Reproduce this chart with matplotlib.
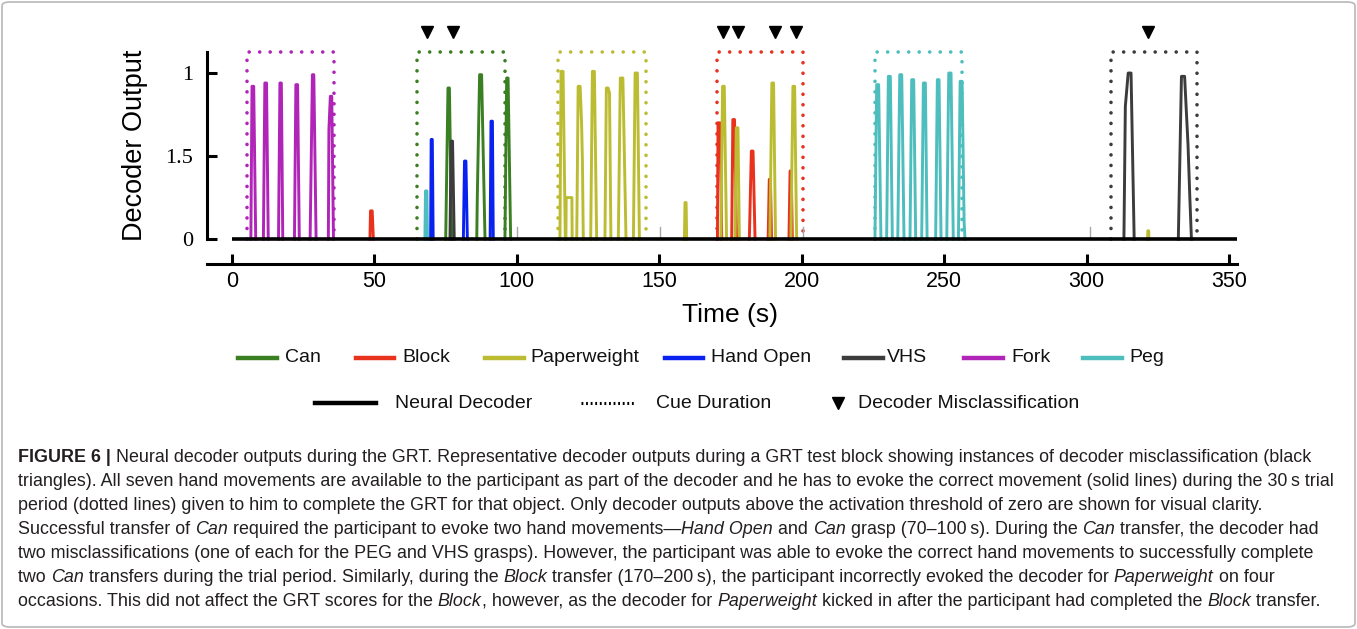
import matplotlib
matplotlib.use("Agg")
from matplotlib import pyplot as plt
from matplotlib import font_manager as fm
from matplotlib.lines import Line2D
from matplotlib.patches import FancyBboxPatch

# ---- data ----
series_names = ['Can', 'Block', 'Paperweight', 'Hand Open', 'VHS', 'Fork', 'Peg']
series_colors = ['#3a7f22', '#e8321e', '#bcbc32', '#0a22f0', '#3c3c3c', '#b024b8', '#4dbdbd']

# decoder bursts per movement: (times in s, decoder output)
can_bursts = [
    ([75.0, 75.8, 76.3, 77.1], [0, 0.91, 0.91, 0]),
    ([85.9, 86.1, 86.9, 87.6, 88.8], [0, 0.26, 0.99, 0.99, 0]),
    ([95.8, 96.4, 96.9, 97.8], [0, 0.97, 0.97, 0]),
]
block_bursts = [
    ([48.4, 48.6, 49.2, 49.6], [0, 0.17, 0.17, 0]),
    ([170.4, 170.6, 171.4, 171.9], [0, 0.70, 0.70, 0]),
    ([175.4, 175.8, 176.4, 177.1], [0, 0.72, 0.72, 0]),
    ([181.6, 182.3, 182.9, 183.6], [0, 0.53, 0.53, 0]),
    ([188.2, 188.6, 189.0, 189.4], [0, 0.36, 0.36, 0]),
    ([195.5, 195.9, 196.3, 196.7], [0, 0.41, 0.41, 0]),
]
paperweight_bursts = [
    ([115.1, 115.5, 116.2, 117.0], [0, 1.01, 1.01, 0]),
    ([117.2, 117.3, 119.3, 119.4], [0, 0.25, 0.25, 0]),
    ([121.0, 121.5, 122.2, 122.7, 123.0, 123.3], [0, 0.92, 0.92, 0.70, 0.47, 0]),
    ([125.9, 126.5, 127.2, 128.0], [0, 1.01, 1.01, 0]),
    ([130.9, 131.4, 132.0, 132.5, 133.0], [0, 0.91, 0.91, 0.88, 0]),
    ([135.6, 136.3, 137.2, 138.3], [0, 0.97, 0.97, 0]),
    ([140.9, 141.5, 142.3, 143.0], [0, 1.00, 1.00, 0]),
    ([158.8, 159.0, 159.4, 159.6], [0, 0.22, 0.22, 0]),
    ([171.6, 172.2, 172.8, 173.6], [0, 0.92, 0.92, 0]),
    ([176.6, 177.0, 177.6, 178.1], [0, 0.67, 0.67, 0]),
    ([188.8, 189.5, 190.1, 190.8], [0, 0.94, 0.94, 0]),
    ([196.2, 196.9, 197.5, 198.2], [0, 0.92, 0.92, 0]),
    ([321.4, 321.5, 321.8, 321.9], [0, 0.05, 0.05, 0]),
]
hand_open_bursts = [
    ([69.7, 69.9, 70.3, 70.6], [0, 0.60, 0.60, 0]),
    ([81.2, 81.6, 82.1, 82.6], [0, 0.47, 0.47, 0]),
    ([90.6, 90.9, 91.4, 91.7], [0, 0.71, 0.71, 0]),
]
vhs_bursts = [
    ([76.5, 76.9, 77.4, 78.0], [0, 0.59, 0.59, 0]),
    ([313.1, 313.6, 314.6, 315.6, 316.7], [0, 0.80, 1.00, 1.00, 0]),
    ([332.2, 333.3, 334.4, 335.6, 336.2, 336.8], [0, 0.98, 0.98, 0.57, 0.27, 0]),
]
fork_bursts = [
    ([6.6, 7.0, 7.6, 8.3], [0, 0.92, 0.92, 0]),
    ([11.0, 11.5, 12.1, 12.7], [0, 0.94, 0.94, 0]),
    ([16.3, 16.8, 17.3, 17.8], [0, 0.94, 0.94, 0]),
    ([21.9, 22.4, 23.0, 23.6], [0, 0.93, 0.93, 0]),
    ([27.4, 28.2, 28.7, 29.5], [0, 0.99, 0.99, 0]),
    ([33.8, 34.0, 34.5, 35.0, 35.6], [0, 0.66, 0.86, 0.86, 0]),
]
peg_bursts = [
    ([67.7, 67.9, 68.4, 68.6], [0, 0.29, 0.29, 0]),
    ([225.7, 226.3, 227.0, 227.8], [0, 0.93, 0.93, 0]),
    ([229.8, 230.4, 231.1, 231.8], [0, 0.98, 0.98, 0]),
    ([233.7, 234.4, 235.1, 235.9], [0, 0.99, 0.99, 0]),
    ([238.0, 238.6, 239.3, 240.0], [0, 0.96, 0.96, 0]),
    ([242.1, 242.7, 243.4, 244.0], [0, 0.94, 0.94, 0]),
    ([247.0, 247.6, 248.2, 248.9], [0, 0.96, 0.96, 0]),
    ([250.9, 251.6, 252.4, 253.2], [0, 1.00, 1.00, 0]),
    ([255.0, 255.6, 256.3, 257.0, 257.3], [0, 0.95, 0.95, 0.10, 0]),
]
other_bursts = [
    ([99.9, 99.9], [0, 0.07]),
    ([150.2, 150.2], [0, 0.07]),
    ([200.5, 200.5], [0, 0.07]),
    ([301.2, 301.2], [0, 0.07]),
]
series_bursts = [can_bursts, block_bursts, paperweight_bursts, hand_open_bursts,
                 vhs_bursts, fork_bursts, peg_bursts]

# cue periods (start, end) and the cued object
cue_starts = [5.2, 65.0, 114.6, 170.1, 225.7, 308.5]
cue_ends = [35.9, 95.8, 145.2, 200.5, 256.3, 338.8]
cue_objects = ['Fork', 'Can', 'Paperweight', 'Block', 'Peg', 'VHS']
cue_top = 1.125

miss_times = [68.4, 77.6, 172.3, 177.6, 190.6, 197.9, 321.5]
miss_level = 1.25

baseline_t = [0, 352.8]
x_ticks = [0, 50, 100, 150, 200, 250, 300, 350]
y_ticks = [0, 0.5, 1]
y_tick_labels = ['0', '1.5', '1']

caption_lines = [
    [('FIGURE 6 |', 'b'), (' Neural decoder outputs during the GRT. Representative decoder outputs during a GRT test block showing instances of decoder misclassification (black', 'n')],
    [('triangles). All seven hand movements are available to the participant as part of the decoder and he has to evoke the correct movement (solid lines) during the 30\u2009s trial', 'n')],
    [('period (dotted lines) given to him to complete the GRT for that object. Only decoder outputs above the activation threshold of zero are shown for visual clarity.', 'n')],
    [('Successful transfer of ', 'n'), ('Can', 'i'), (' required the participant to evoke two hand movements\u2014', 'n'), ('Hand Open', 'i'),
     (' and ', 'n'), ('Can', 'i'), (' grasp (70\u2013100\u2009s). During the ', 'n'), ('Can', 'i'), (' transfer, the decoder had', 'n')],
    [('two misclassifications (one of each for the PEG and VHS grasps). However, the participant was able to evoke the correct hand movements to successfully complete', 'n')],
    [('two ', 'n'), ('Can', 'i'), (' transfers during the trial period. Similarly, during the ', 'n'), ('Block', 'i'),
     (' transfer (170\u2013200\u2009s), the participant incorrectly evoked the decoder for ', 'n'), ('Paperweight', 'i'), (' on four', 'n')],
    [('occasions. This did not affect the GRT scores for the ', 'n'), ('Block', 'i'), (', however, as the decoder for ', 'n'),
     ('Paperweight', 'i'), (' kicked in after the participant had completed the ', 'n'), ('Block', 'i'), (' transfer.', 'n')],
]

# ---- figure ----
W, H = 1357, 629
fig = plt.figure(figsize=(W / 100, H / 100), dpi=100)

font_names = {f.name for f in fm.fontManager.ttflist}
narrow = 'Liberation Sans Narrow' in font_names
leg_font = ['Liberation Sans Narrow', 'DejaVu Sans'] if narrow else ['Liberation Sans', 'DejaVu Sans']
leg_size = 16.5 if narrow else 14


def fx(px):
    return px / W


def fy(py):
    return 1 - py / H


# axes: t=0 at px 232, t=350 at px 1229; v=0 at py 239, v=1 at py 73
ax = fig.add_axes([fx(207), fy(264), (1237 - 207) / W, (264 - 23.2) / H])
ax.set_xlim(-8.8, 352.8)
ax.set_ylim(-0.15, 1.3)
ax.patch.set_alpha(0)

for (s, e, obj) in zip(cue_starts, cue_ends, cue_objects):
    c = series_colors[series_names.index(obj)]
    ax.plot([s, s, e, e], [0, cue_top, cue_top, 0], color=c, lw=2.6,
            linestyle=(0, (0.01, 2.9)), dash_capstyle='round', zorder=2)

for t, v in other_bursts:
    ax.plot(t, v, color='#a8a8a8', lw=1.0, zorder=3)

for name, color, bursts in zip(series_names, series_colors, series_bursts):
    z = 5 if name == 'VHS' else 4
    for t, v in bursts:
        ax.plot(t, v, color=color, lw=2.1, solid_joinstyle='round', zorder=z)

ax.plot(baseline_t, [0, 0], color='black', lw=2.6, solid_capstyle='butt', zorder=6)
ax.plot(miss_times, [miss_level] * len(miss_times), 'v', color='black', ms=8.5,
        clip_on=False, zorder=7)

for side in ['top', 'right']:
    ax.spines[side].set_visible(False)
ax.spines['left'].set_bounds(0, cue_top)
ax.spines['left'].set_linewidth(2.2)
ax.spines['bottom'].set_linewidth(2.2)
ax.set_xticks(x_ticks)
ax.set_xticklabels([str(t) for t in x_ticks], family='Liberation Sans', fontsize=15.5)
ax.set_yticks(y_ticks)
ax.set_yticklabels(y_tick_labels, family='Liberation Serif', fontsize=16)
ax.tick_params(axis='both', direction='in', length=7, width=2.2, colors='black')
ax.tick_params(axis='y', pad=10)
ax.tick_params(axis='x', pad=5)

fig.text(fx(135), fy(145), 'Decoder Output', rotation=90, ha='center', va='center',
         family='Liberation Sans', fontsize=19.5)
fig.text(fx(730), fy(315), 'Time (s)', ha='center', va='center',
         family='Liberation Sans', fontsize=19)

# ---- legend (drawn by hand to match the layout) ----
leg_row1 = [(238, 277, 285), (356, 394, 402), (485, 524, 530), (665, 703, 711),
            (844, 883, 887), (964, 1003, 1011), (1083, 1122, 1129)]
for (x0, x1, xt), name, color in zip(leg_row1, series_names, series_colors):
    fig.add_artist(Line2D([fx(x0), fx(x1)], [fy(358), fy(358)], color=color, lw=3.2,
                          transform=fig.transFigure))
    fig.text(fx(xt), fy(358), name, ha='left', va='center', family=leg_font,
             fontsize=leg_size, color='#111111')

fig.add_artist(Line2D([fx(315), fx(376)], [fy(403), fy(403)], color='black', lw=3.2,
                      transform=fig.transFigure))
fig.text(fx(395), fy(403), 'Neural Decoder', ha='left', va='center', family=leg_font,
         fontsize=leg_size, color='#111111')
fig.add_artist(Line2D([fx(581), fx(636)], [fy(403), fy(403)], color='black', lw=2.2,
                      linestyle=(0, (0.6, 0.9)), transform=fig.transFigure))
fig.text(fx(656), fy(403), 'Cue Duration', ha='left', va='center', family=leg_font,
         fontsize=leg_size, color='#111111')
fig.add_artist(Line2D([fx(838)], [fy(403)], marker='v', color='black', ms=8,
                      linestyle='none', transform=fig.transFigure))
fig.text(fx(858), fy(403), 'Decoder Misclassification', ha='left', va='center',
         family=leg_font, fontsize=leg_size, color='#111111')

# ---- caption ----
renderer = fig.canvas.get_renderer()
cap_family = ['Liberation Sans', 'DejaVu Sans']
styles = {'n': dict(weight='normal', style='normal'),
          'b': dict(weight='bold', style='normal'),
          'i': dict(weight='normal', style='italic')}


def line_width(segments, size):
    total = 0
    for s, st in segments:
        t = fig.text(0, 0, s, family=cap_family, fontsize=size, **styles[st])
        total += t.get_window_extent(renderer).width
        t.remove()
    return total


widest = max(line_width(caption_lines[i], 12) for i in (0, 1, 6))
cap_size = 12 * (1338 - 18) / widest
cap_y = [457, 480, 504, 528, 552, 576, 600]
for segments, yc in zip(caption_lines, cap_y):
    x = 18
    for s, st in segments:
        t = fig.text(fx(x), fy(yc + 5.5), s, family=cap_family, fontsize=cap_size,
                     va='baseline', ha='left', color='#231f20', **styles[st])
        x += t.get_window_extent(renderer).width

fig.add_artist(FancyBboxPatch((fx(2), fy(627)), fx(1353), (625) / H,
                              boxstyle='round,pad=0,rounding_size=0.006',
                              transform=fig.transFigure, fill=False,
                              edgecolor='#b8b8b8', lw=1.2))

fig.savefig('out.png', dpi=100)
